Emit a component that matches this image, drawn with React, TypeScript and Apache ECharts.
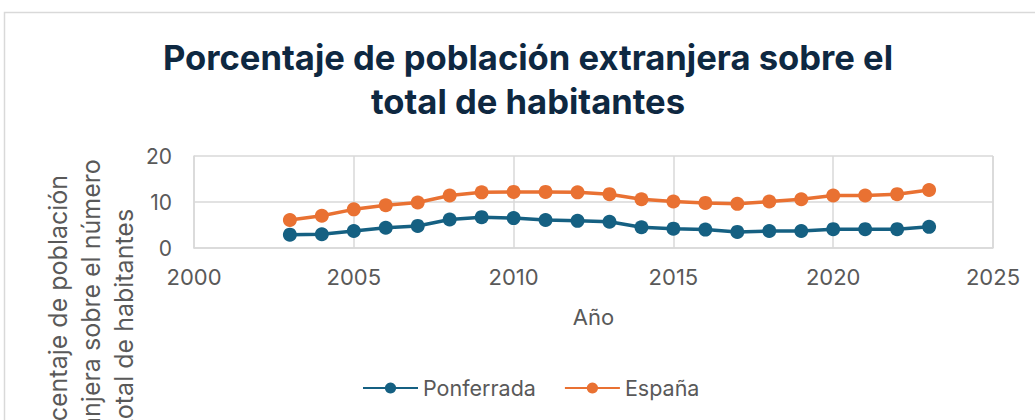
import React, { useEffect, useRef } from "react";
import * as echarts from "echarts";

const years = [2003, 2004, 2005, 2006, 2007, 2008, 2009, 2010, 2011, 2012, 2013, 2014, 2015, 2016, 2017, 2018, 2019, 2020, 2021, 2022, 2023];
const ponferrada = [2.9, 3.0, 3.7, 4.4, 4.8, 6.2, 6.7, 6.5, 6.1, 5.9, 5.7, 4.5, 4.2, 4.0, 3.5, 3.7, 3.7, 4.1, 4.1, 4.1, 4.6];
const espana = [6.1, 7.0, 8.4, 9.3, 9.9, 11.4, 12.1, 12.2, 12.2, 12.1, 11.7, 10.6, 10.1, 9.8, 9.6, 10.1, 10.6, 11.4, 11.4, 11.7, 12.6];
const seriesNames = ["Ponferrada", "España"];
const titleText = "Porcentaje de población extranjera sobre el\ntotal de habitantes";
const xAxisTitle = "Año";
const yAxisTitle = "Porcentaje de población\nextranjera sobre el número\ntotal de habitantes";

const BLUE = "#156082";
const ORANGE = "#E97132";
const GRID = "#D9D9D9";
const LABEL = "#595959";
const FONT = "Inter, 'Noto Sans', sans-serif";

export default function App() {
  const ref = useRef<HTMLDivElement>(null);
  useEffect(() => {
    if (!ref.current) return;
    const chart = echarts.init(ref.current, undefined, { renderer: "svg" });
    chart.setOption({
      animation: false,
      backgroundColor: "#ffffff",
      textStyle: { fontFamily: FONT },
      title: {
        text: titleText,
        left: 523,
        top: 30,
        textAlign: "center",
        textStyle: {
          fontFamily: FONT,
          fontSize: 34.6,
          fontWeight: "bold",
          color: "#0E2841",
          lineHeight: 44,
        },
      },
      legend: {
        data: seriesNames,
        left: 357,
        top: 372,
        itemWidth: 55,
        itemHeight: 14,
        itemGap: 28,
        textStyle: { fontFamily: FONT, fontSize: 21.5, color: LABEL },
      },
      grid: { left: 194, right: 42, top: 156, bottom: 172 },
      xAxis: {
        type: "value",
        min: 2000,
        max: 2025,
        interval: 5,
        name: xAxisTitle,
        nameLocation: "middle",
        nameGap: 58,
        nameTextStyle: { fontFamily: FONT, fontSize: 22, color: LABEL },
        axisLine: { show: true, lineStyle: { color: GRID, width: 1.5 } },
        axisTick: { show: false },
        splitLine: { show: true, lineStyle: { color: GRID, width: 1.5 } },
        axisLabel: { fontFamily: FONT, fontSize: 22, color: LABEL, margin: 18, formatter: (v: number) => String(v) },
      },
      yAxis: {
        type: "value",
        min: 0,
        max: 20,
        interval: 10,
        axisLine: { show: true, lineStyle: { color: GRID, width: 1.5 } },
        axisTick: { show: false },
        splitLine: { show: true, lineStyle: { color: GRID, width: 1.5 } },
        axisLabel: { fontFamily: FONT, fontSize: 21, color: LABEL, margin: 22 },
      },
      graphic: [
        {
          type: "rect",
          shape: { x: 4.5, y: 12.5, width: 1200, height: 600 },
          style: { fill: "none", stroke: GRID, lineWidth: 1.5 },
          silent: true,
          z: -1,
        },
        {
          type: "line",
          shape: { x1: 993, y1: 156, x2: 993, y2: 248 },
          style: { stroke: GRID, lineWidth: 1.5 },
          silent: true,
        },
        {
          type: "text",
          x: 91,
          y: 318,
          rotation: Math.PI / 2,
          style: {
            text: yAxisTitle,
            fontFamily: FONT,
            fontSize: 25,
            fill: LABEL,
            align: "center",
            verticalAlign: "middle",
            lineHeight: 33,
          },
          silent: true,
        },
      ],
      series: [
        {
          name: seriesNames[0],
          type: "line",
          data: years.map((y, i) => [y, ponferrada[i]]),
          symbol: "circle",
          symbolSize: 14,
          lineStyle: { color: BLUE, width: 3.5 },
          itemStyle: { color: BLUE },
        },
        {
          name: seriesNames[1],
          type: "line",
          data: years.map((y, i) => [y, espana[i]]),
          symbol: "circle",
          symbolSize: 14,
          lineStyle: { color: ORANGE, width: 3.5 },
          itemStyle: { color: ORANGE },
        },
      ],
    });
    return () => chart.dispose();
  }, []);
  return (
    <div
      ref={ref}
      style={{ position: "fixed", left: 0, top: 0, width: 1035, height: 420 }}
    />
  );
}
